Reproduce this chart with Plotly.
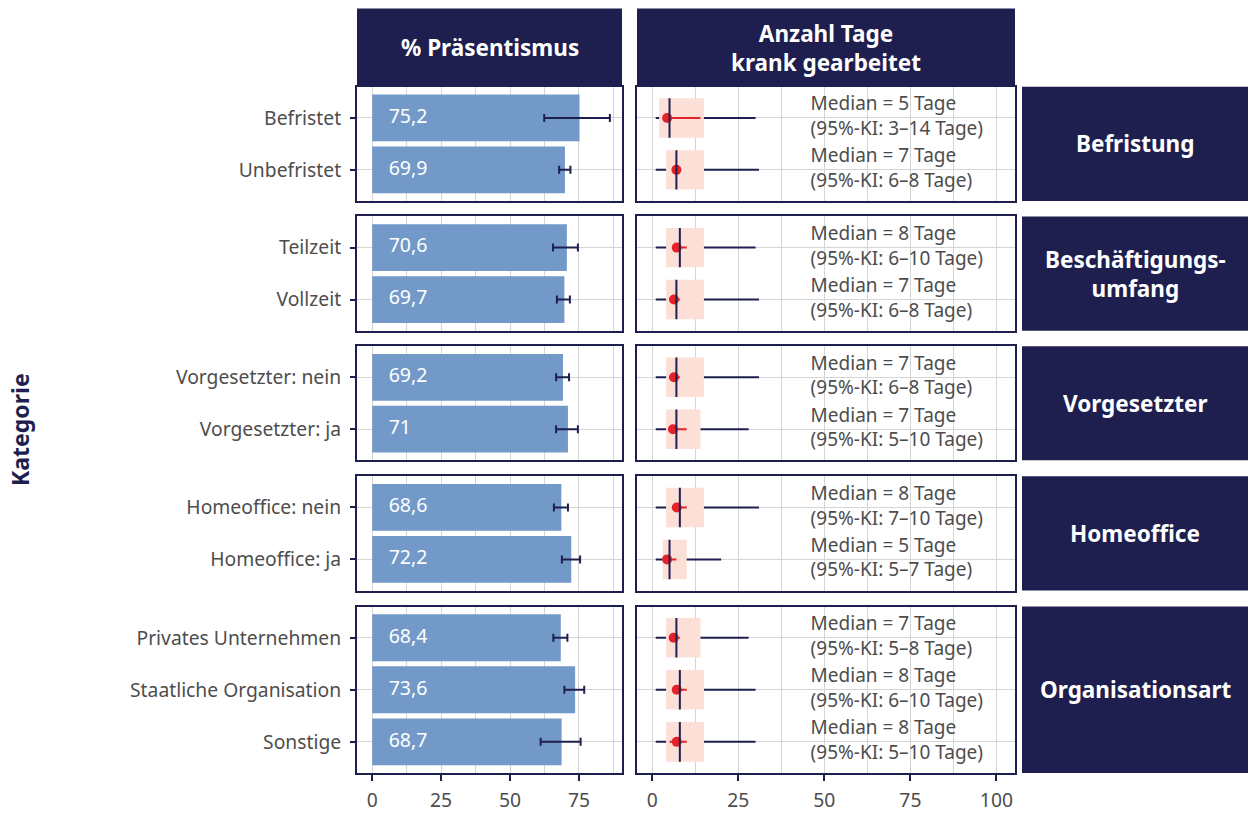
import plotly.graph_objects as go
from plotly.subplots import make_subplots

# ---------------------------------------------------------------- data
groups = ["Befristung", "Beschäftigungs-<br>umfang", "Vorgesetzter",
          "Homeoffice", "Organisationsart"]
group_sizes = [2, 2, 2, 2, 3]
categories = ["Befristet", "Unbefristet",
              "Teilzeit", "Vollzeit",
              "Vorgesetzter: nein", "Vorgesetzter: ja",
              "Homeoffice: nein", "Homeoffice: ja",
              "Privates Unternehmen", "Staatliche Organisation", "Sonstige"]
headers = ["% Präsentismus", "Anzahl Tage<br>krank gearbeitet"]

# % Präsentismus with 95% confidence interval
praesentismus = [75.2, 69.9, 70.6, 69.7, 69.2, 71.0, 68.6, 72.2, 68.4, 73.6, 68.7]
praes_ci_lo = [62.4, 67.8, 65.6, 67.0, 66.7, 66.7, 65.9, 68.8, 65.7, 69.7, 61.1]
praes_ci_hi = [86.2, 71.9, 74.6, 71.7, 71.4, 74.6, 71.0, 75.4, 70.8, 76.9, 75.6]

# Anzahl Tage krank gearbeitet: box statistics, median with CI, point estimate
days_min = [1, 1, 1, 1, 1, 1, 1, 1, 1, 1, 1]
days_q1 = [2, 4, 4, 4, 4, 4, 4, 3, 4, 4, 4]
days_q3 = [15, 15, 15, 15, 15, 14, 15, 10, 14, 15, 15]
days_max = [30, 31, 30, 31, 31, 28, 31, 20, 28, 30, 30]
days_median = [5, 7, 8, 7, 7, 7, 8, 5, 7, 8, 8]
days_ci_lo = [3, 6, 6, 6, 6, 5, 7, 5, 5, 6, 5]
days_ci_hi = [14, 8, 10, 8, 8, 10, 10, 7, 8, 10, 10]
days_point = [4.3, 7.0, 7.1, 6.3, 6.3, 6.0, 7.1, 4.3, 6.2, 7.1, 7.1]

left_ticks = [0, 25, 50, 75]
right_ticks = [0, 25, 50, 75, 100]

# ---------------------------------------------------------------- style
W, H = 1248, 813
NAVY = "#1E1F4F"
BAR = "#7299C8"
PINK = "#FCE0D7"
RED = "#E4222A"
GRID = "#D5D5D5"
TXT = "#4D4D4D"
FONT = "Noto Sans"
STRIP_SIZE = 22.5
LABEL_SIZE = 19.3

row_top = [87, 217, 347, 477.5, 608]
row_bot = [201.5, 331.5, 461.5, 592, 775]
col_x = [(357, 622), (637, 1015)]
strip_x = (1022, 1248)
head_y = (8.5, 87)

fig = make_subplots(rows=5, cols=2)


def fmt(v):
    return ("%g" % v).replace(".", ",")


start = 0
for r, n in enumerate(group_sizes, start=1):
    idx = list(range(start, start + n))
    start += n
    ypos = list(range(n))
    names = [categories[i] for i in idx]

    # left: bars with error bars
    vals = [praesentismus[i] for i in idx]
    fig.add_trace(go.Bar(
        x=vals, y=ypos, orientation="h", width=0.9,
        marker=dict(color=BAR, line=dict(width=0)),
        error_x=dict(type="data", symmetric=False,
                     array=[praes_ci_hi[i] - praesentismus[i] for i in idx],
                     arrayminus=[praesentismus[i] - praes_ci_lo[i] for i in idx],
                     color=NAVY, thickness=2, width=4),
        hoverinfo="skip", showlegend=False), row=r, col=1)
    fig.add_trace(go.Scatter(
        x=[6] * n, y=ypos, mode="text", text=[fmt(v) for v in vals],
        textposition="middle right",
        textfont=dict(family=FONT, size=19.5, color="white"),
        hoverinfo="skip", showlegend=False), row=r, col=1)

    # right: box (q1..q3) as a floating bar
    fig.add_trace(go.Bar(
        x=[days_q3[i] - days_q1[i] for i in idx],
        base=[days_q1[i] for i in idx], y=ypos, orientation="h", width=0.76,
        marker=dict(color=PINK, line=dict(width=0)),
        hoverinfo="skip", showlegend=False), row=r, col=2)

    # whiskers outside the box
    wx, wy = [], []
    for k, i in enumerate(idx):
        wx += [days_min[i], days_q1[i], None, days_q3[i], days_max[i], None]
        wy += [k, k, None, k, k, None]
    fig.add_trace(go.Scatter(
        x=wx, y=wy, mode="lines", line=dict(color=NAVY, width=2),
        hoverinfo="skip", showlegend=False), row=r, col=2)

    # CI of the median (red) and point estimate
    cx, cy = [], []
    for k, i in enumerate(idx):
        cx += [days_ci_lo[i], days_ci_hi[i], None]
        cy += [k, k, None]
    fig.add_trace(go.Scatter(
        x=cx, y=cy, mode="lines", line=dict(color=RED, width=2),
        hoverinfo="skip", showlegend=False), row=r, col=2)
    fig.add_trace(go.Scatter(
        x=[days_point[i] for i in idx], y=ypos, mode="markers",
        marker=dict(color=RED, size=10, line=dict(width=0)),
        hoverinfo="skip", showlegend=False), row=r, col=2)

    # median line
    mx, my = [], []
    for k, i in enumerate(idx):
        mx += [days_median[i], days_median[i], None]
        my += [k - 0.38, k + 0.38, None]
    fig.add_trace(go.Scatter(
        x=mx, y=my, mode="lines", line=dict(color=NAVY, width=2),
        hoverinfo="skip", showlegend=False), row=r, col=2)

    # median text
    fig.add_trace(go.Scatter(
        x=[46] * n, y=ypos, mode="text",
        text=["Median = %d Tage<br>(95%%-KI: %d–%d Tage)"
              % (days_median[i], days_ci_lo[i], days_ci_hi[i]) for i in idx],
        textposition="middle right",
        textfont=dict(family=FONT, size=19, color=TXT),
        hoverinfo="skip", showlegend=False), row=r, col=2)

    # axes
    yd = [1 - row_bot[r - 1] / H, 1 - row_top[r - 1] / H]
    common_y = dict(domain=yd, range=[n - 0.4, -0.6], tickvals=ypos,
                    showgrid=True, gridcolor=GRID, gridwidth=1, zeroline=False,
                    showline=True, mirror=True, linecolor=NAVY, linewidth=2)
    fig.update_yaxes(**common_y, ticktext=names, ticks="outside", ticklen=5,
                     tickcolor=NAVY, tickwidth=1.5,
                     tickfont=dict(family=FONT, size=LABEL_SIZE, color=TXT),
                     ticklabelstandoff=5, row=r, col=1)
    fig.update_yaxes(**common_y, ticks="", showticklabels=False, row=r, col=2)

    last = r == 5
    for c, (rng, tv) in enumerate([([-5.5, 90.6], left_ticks),
                                   ([-4.45, 105.4], right_ticks)], start=1):
        fig.update_xaxes(
            domain=[col_x[c - 1][0] / W, col_x[c - 1][1] / W], range=rng,
            tickvals=tv, showgrid=True, gridcolor=GRID, gridwidth=1,
            minor=dict(tickvals=[t + 12.5 for t in tv], showgrid=True,
                       gridcolor=GRID, gridwidth=1, ticks=""),
            zeroline=False, showline=True, mirror=True, linecolor=NAVY,
            linewidth=2, ticks="outside" if last else "", ticklen=6,
            tickcolor=NAVY, tickwidth=1.5, showticklabels=last,
            tickfont=dict(family=FONT, size=LABEL_SIZE, color=TXT),
            ticklabelstandoff=3,
            row=r, col=c)

# ---------------------------------------------------------------- strips
shapes = []
annotations = []


def strip(x0, x1, y0, y1, label):
    shapes.append(dict(type="rect", xref="paper", yref="paper",
                       x0=x0 / W, x1=x1 / W, y0=1 - y1 / H, y1=1 - y0 / H,
                       fillcolor=NAVY, line=dict(width=0), layer="below"))
    annotations.append(dict(
        xref="paper", yref="paper", x=(x0 + x1) / 2 / W,
        y=1 - (y0 + y1) / 2 / H, text="<b>%s</b>" % label.replace(
            "<br>", "</b><br><b>"),
        showarrow=False, font=dict(family=FONT, size=STRIP_SIZE,
                                   color="white"),
        xanchor="center", yanchor="middle"))


for (x0, x1), label in zip(col_x, headers):
    strip(x0, x1, head_y[0], head_y[1], label)
for t, b, label in zip(row_top, row_bot, groups):
    strip(strip_x[0], strip_x[1], t, b, label)

annotations.append(dict(xref="paper", yref="paper", x=20 / W, y=1 - 431 / H,
                        text="<b>Kategorie</b>", textangle=-90, showarrow=False,
                        font=dict(family=FONT, size=23, color=NAVY),
                        xanchor="center", yanchor="middle"))

fig.update_layout(
    width=W, height=H, margin=dict(l=0, r=0, t=0, b=0),
    paper_bgcolor="white", plot_bgcolor="white",
    barmode="overlay", showlegend=False,
    shapes=shapes, annotations=annotations,
    font=dict(family=FONT, color=TXT),
)

fig.write_html("out.html")
